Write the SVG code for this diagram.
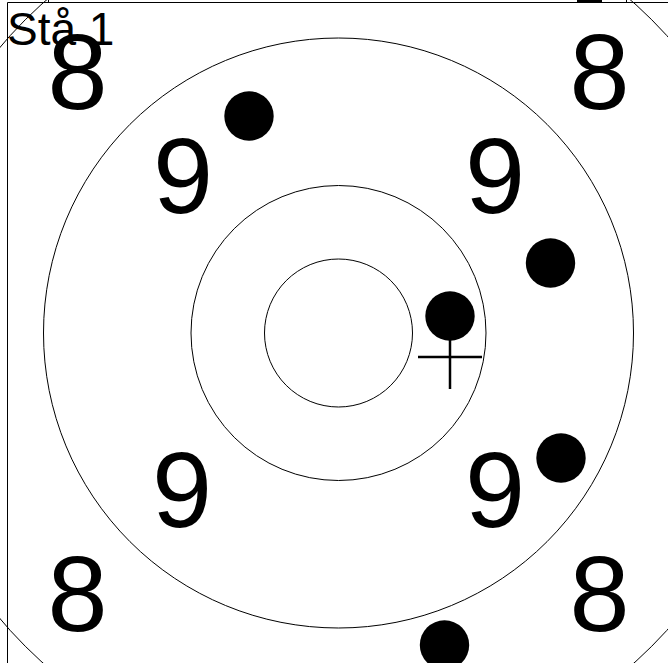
<svg xmlns="http://www.w3.org/2000/svg" width="668" height="663" viewBox="0 0 668 663">
<style>
.ring{fill:none;stroke:#000;stroke-width:1}
.num{font-family:"Liberation Sans",Arial,sans-serif;font-size:108px;fill:#000;text-anchor:middle}
.lbl{font-family:"Liberation Sans",Arial,sans-serif;font-size:46px;fill:#000}
.hit{fill:#000}
.frame{stroke:#000;stroke-width:1;fill:none}
</style>
<rect width="668" height="663" fill="#fff"/>
<g id="frame">
<line class="frame" x1="7.5" y1="2.5" x2="668" y2="2.5"/>
<line class="frame" x1="7.5" y1="2.5" x2="7.5" y2="663"/>
<line class="frame" x1="48.5" y1="0" x2="48.5" y2="3"/>
<line class="frame" x1="626.5" y1="0" x2="626.5" y2="3"/>
<rect x="577" y="0" width="25" height="2" fill="#000"/>
</g>
<g id="rings">
<circle class="ring" cx="338.5" cy="333" r="443"/>
<circle class="ring" cx="338.5" cy="333" r="295"/>
<circle class="ring" cx="338.5" cy="333" r="147.5"/>
<circle class="ring" cx="338.5" cy="333" r="74"/>
</g>
<g id="numbers">
<text class="num" x="77.5" y="109">8</text>
<text class="num" x="599.5" y="109">8</text>
<text class="num" x="77.5" y="631">8</text>
<text class="num" x="599.5" y="631">8</text>
<text class="num" x="183" y="213">9</text>
<text class="num" x="495" y="213">9</text>
<text class="num" x="182" y="527">9</text>
<text class="num" x="495" y="527">9</text>
</g>
<g id="title"><text class="lbl" x="7" y="45">Stå 1</text></g>
<g id="hits">
<circle class="hit" cx="249" cy="116" r="24.7"/>
<circle class="hit" cx="550.5" cy="263" r="24.7"/>
<circle class="hit" cx="450" cy="316" r="24.7"/>
<circle class="hit" cx="561" cy="458" r="24.7"/>
<circle class="hit" cx="444.5" cy="645" r="24.7"/>
</g>
<g id="crosshair" stroke="#000" stroke-width="2.5">
<line x1="418" y1="357" x2="482" y2="357"/>
<line x1="450" y1="325" x2="450" y2="389"/>
</g>
</svg>
